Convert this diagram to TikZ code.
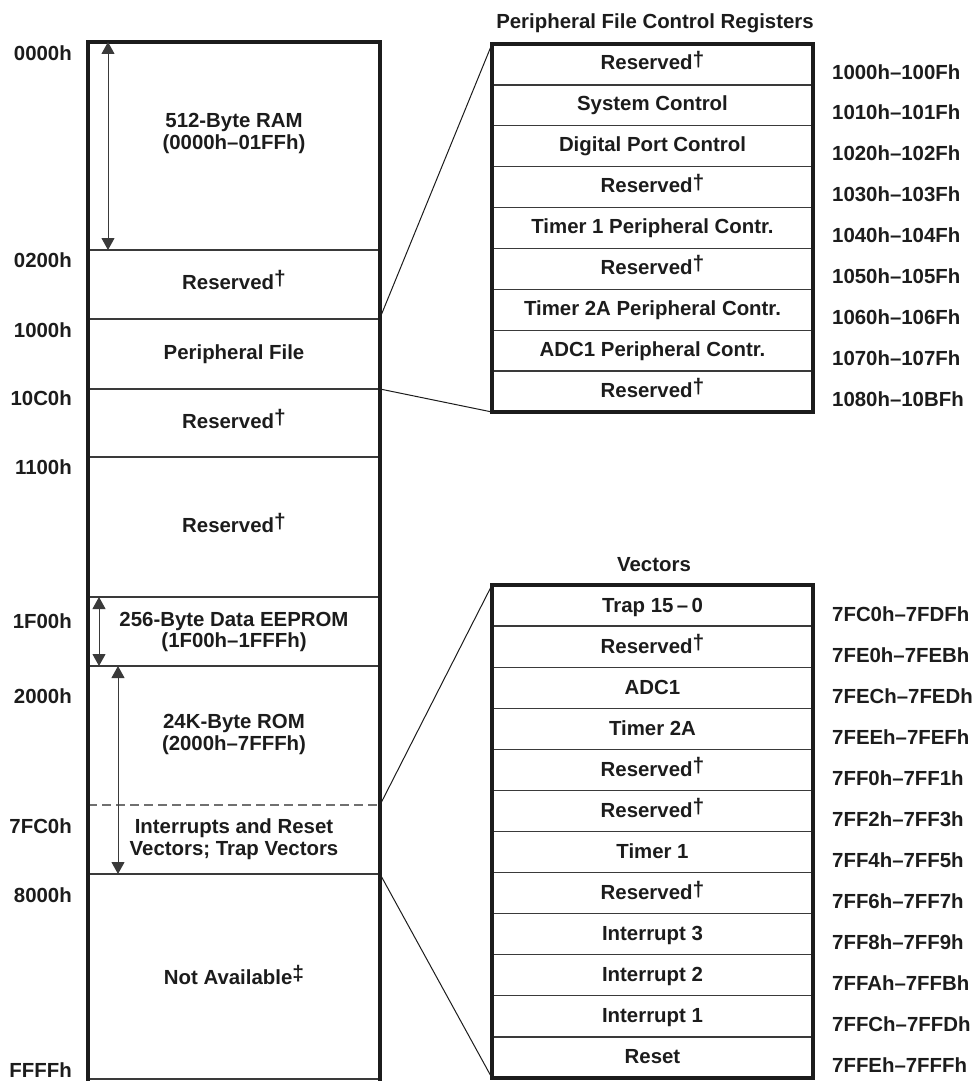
\documentclass[tikz,border=0pt]{standalone}
\usepackage{fontspec}
\setmainfont{Liberation Sans}
\usetikzlibrary{arrows.meta}
\definecolor{ink}{HTML}{1C1C1C}
\definecolor{rule}{HTML}{3A3A3A}
\definecolor{dashgray}{HTML}{707070}
\tikzset{
  txt/.style={font=\fontsize{20.4}{22}\selectfont\bfseries, text=ink, inner sep=0pt, anchor=base},
  addrl/.style={txt, anchor=base east},
  addrr/.style={txt, anchor=base west},
  frame/.style={draw=ink, line width=3.2pt, line join=miter},
  divider/.style={draw=rule, line width=1.3pt},
  dashdiv/.style={draw=dashgray, line width=1.3pt, dash pattern=on 9pt off 5pt},
  conn/.style={draw=ink, line width=1pt},
  dimarrow/.style={draw=rule, line width=1pt,
    {Triangle[length=12pt,width=13pt]}-{Triangle[length=12pt,width=13pt]}},
}
\newcommand{\dg}{\raisebox{3.5pt}{\fontsize{21}{21}\selectfont †}}
\newcommand{\ddg}{\raisebox{3.5pt}{\fontsize{21}{21}\selectfont ‡}}
\begin{document}
\begin{tikzpicture}[x=1pt,y=-1pt]
\useasboundingbox (0,0) rectangle (973,1081);

% ---------- main memory map ----------
\coordinate (mBL) at (88,1081);
\coordinate (mTL) at (88,42);
\coordinate (mTR) at (380,42);
\coordinate (mBR) at (380,1081);
\foreach \y in {250,319,389,457,597,666,874,1079}
  \draw[divider] (88,\y) -- (380,\y);
\draw[dashdiv] (88,805) -- (380,805);
\draw[frame] (mBL) -- (mTL) -- (mTR) -- (mBR);

% address labels on left
\node[addrl] (a0000) at (72,60)   {0000h};
\node[addrl] (a0200) at (72,267)  {0200h};
\node[addrl] (a1000) at (72,337)  {1000h};
\node[addrl] (a10C0) at (72,405)  {10C0h};
\node[addrl] (a1100) at (72,474)  {1100h};
\node[addrl] (a1F00) at (72,628)  {1F00h};
\node[addrl] (a2000) at (72,703)  {2000h};
\node[addrl] (a7FC0) at (72,833)  {7FC0h};
\node[addrl] (a8000) at (72,902)  {8000h};
\node[addrl] (aFFFF) at (72,1077) {FFFFh};

% region texts
\node[txt] (ram1) at (234,127) {512-Byte RAM};
\node[txt] (ram2) at (234,149) {(0000h–01FFh)};
\node[txt] (res1) at (234,289) {Reserved\dg};
\node[txt] (pfile) at (234,359) {Peripheral File};
\node[txt] (res2) at (234,428) {Reserved\dg};
\node[txt] (res3) at (234,532) {Reserved\dg};
\node[txt] (ee1) at (234,626) {256-Byte Data EEPROM};
\node[txt] (ee2) at (234,647) {(1F00h–1FFFh)};
\node[txt] (rom1) at (234,728) {24K-Byte ROM};
\node[txt] (rom2) at (234,750) {(2000h–7FFFh)};
\node[txt] (iv1) at (234,833) {Interrupts and Reset};
\node[txt] (iv2) at (234,855) {Vectors; Trap Vectors};
\node[txt] (na) at (234,984) {Not Available\ddg};

% dimension arrows
\coordinate (d1a) at (108,42);  \coordinate (d1b) at (108,250);
\coordinate (d2a) at (99,597);  \coordinate (d2b) at (99,666);
\coordinate (d3a) at (118,666); \coordinate (d3b) at (118,874);
\draw[dimarrow] (d1a) -- (d1b);
\draw[dimarrow] (d2a) -- (d2b);
\draw[dimarrow] (d3a) -- (d3b);

% ---------- peripheral file control registers ----------
\node[txt] (ptitle) at (655,29) {Peripheral File Control Registers};
\coordinate (ptTL) at (492,44);
\coordinate (ptBR) at (813,412);
\coordinate (ptBL) at (492,412);
\foreach \k in {1,...,8}
  \draw[divider] (492,{44+40.889*\k}) -- (813,{44+40.889*\k});
\draw[frame] (ptTL) rectangle (ptBR);
\foreach \t/\a [count=\i] in {
  Reserved\dg/1000h–100Fh,
  System Control/1010h–101Fh,
  Digital Port Control/1020h–102Fh,
  Reserved\dg/1030h–103Fh,
  Timer 1 Peripheral Contr./1040h–104Fh,
  Reserved\dg/1050h–105Fh,
  Timer 2A Peripheral Contr./1060h–106Fh,
  ADC1 Peripheral Contr./1070h–107Fh,
  Reserved\dg/1080h–10BFh}{
  \node[txt] (pr\i) at (652.5,{44+40.889*(\i-1)+26}) {\t};
  \node[addrr] (pa\i) at (832,{44+40.889*(\i-1)+35}) {\a};
}
\coordinate (pfA) at (380,318);
\coordinate (pfB) at (380,389);
\draw[conn] (pfA) -- (ptTL);
\draw[conn] (pfB) -- (ptBL);

% ---------- vectors ----------
\node[txt] (vtitle) at (654,571) {Vectors};
\coordinate (vtTL) at (492,585);
\coordinate (vtBR) at (813,1078);
\coordinate (vtBL) at (492,1078);
\foreach \k in {1,...,11}
  \draw[divider] (492,{585+41.083*\k}) -- (813,{585+41.083*\k});
\draw[frame] (vtTL) rectangle (vtBR);
\foreach \t/\a [count=\i] in {
  Trap 15\,–\,0/7FC0h–7FDFh,
  Reserved\dg/7FE0h–7FEBh,
  ADC1/7FECh–7FEDh,
  Timer 2A/7FEEh–7FEFh,
  Reserved\dg/7FF0h–7FF1h,
  Reserved\dg/7FF2h–7FF3h,
  Timer 1/7FF4h–7FF5h,
  Reserved\dg/7FF6h–7FF7h,
  Interrupt 3/7FF8h–7FF9h,
  Interrupt 2/7FFAh–7FFBh,
  Interrupt 1/7FFCh–7FFDh,
  Reset/7FFEh–7FFFh}{
  \node[txt] (vr\i) at (652.5,{585+41.083*(\i-1)+27}) {\t};
  \node[addrr] (va\i) at (832,{585+41.083*(\i-1)+36}) {\a};
}
\coordinate (vA) at (380,805);
\coordinate (vB) at (380,874);
\draw[conn] (vA) -- (vtTL);
\draw[conn] (vB) -- (vtBL);
\end{tikzpicture}
\end{document}
